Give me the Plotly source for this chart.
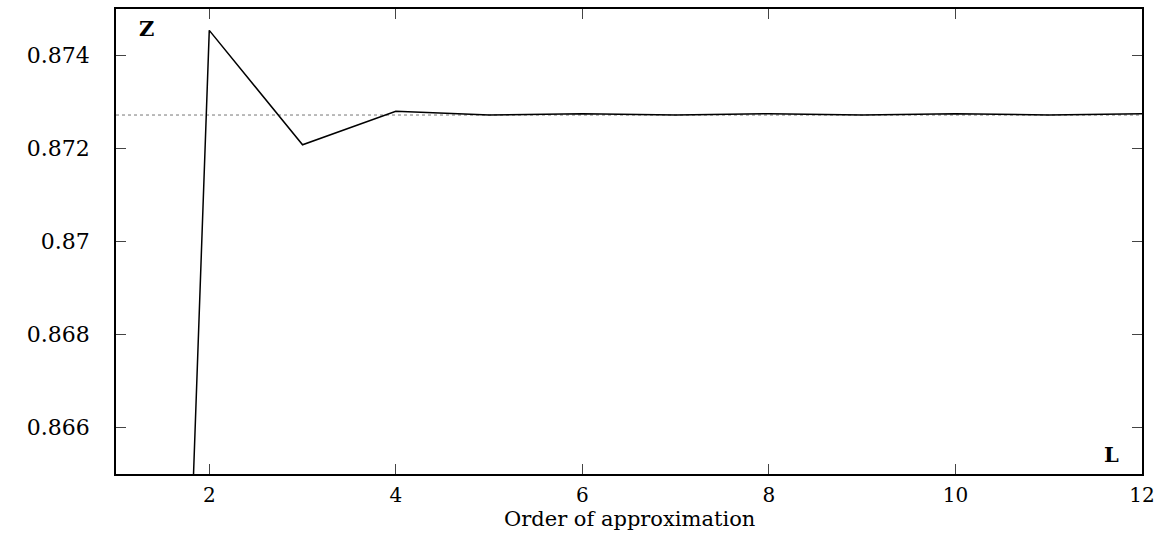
import plotly.graph_objects as go

order = [1, 2, 3, 4, 5, 6, 7, 8, 9, 10, 11, 12]
z_values = [0.8180, 0.87454, 0.87208, 0.87280, 0.87272, 0.87275, 0.87272, 0.87275, 0.87272, 0.87275, 0.87272, 0.87275]
z_limit = 0.87272
x_ticks = [2, 4, 6, 8, 10, 12]
y_ticks = [0.866, 0.868, 0.87, 0.872, 0.874]
y_tick_text = ["0.866", "0.868", "0.87", "0.872", "0.874"]

font_family = "DejaVu Serif"

fig = go.Figure()
fig.add_trace(go.Scatter(x=[1, 12], y=[z_limit, z_limit], mode="lines",
                         line=dict(color="#777777", width=1, dash="dot"), showlegend=False))
fig.add_trace(go.Scatter(x=order, y=z_values, mode="lines",
                         line=dict(color="black", width=1.5), showlegend=False))

fig.update_layout(
    width=1164, height=533,
    margin=dict(l=116, r=22, t=7, b=59),
    paper_bgcolor="white", plot_bgcolor="white",
    font=dict(family=font_family, size=21, color="black"),
    xaxis=dict(range=[1, 12], tickvals=x_ticks, ticks="inside", ticklen=10,
               showline=True, linecolor="black", linewidth=1.5, mirror="ticks",
               showgrid=False, zeroline=False, ticklabelstandoff=2,
               tickfont=dict(family=font_family, size=20)),
    yaxis=dict(range=[0.865, 0.875], tickvals=y_ticks, ticktext=y_tick_text,
               ticks="inside", ticklen=10,
               showline=True, linecolor="black", linewidth=1.5, mirror="ticks",
               showgrid=False, zeroline=False, ticklabelstandoff=20,
               tickfont=dict(family=font_family, size=22)),
    annotations=[
        dict(text="Order of approximation", x=0.5, y=0, xref="paper", yref="paper",
             xanchor="center", yanchor="top", yshift=-31, showarrow=False,
             font=dict(family=font_family, size=21)),
        dict(text="<b>Z</b>", x=0.03, y=0.99, xref="paper", yref="paper",
             xanchor="center", yanchor="top", showarrow=False,
             font=dict(family=font_family, size=21)),
        dict(text="<b>L</b>", x=0.97, y=0.01, xref="paper", yref="paper",
             xanchor="center", yanchor="bottom", showarrow=False,
             font=dict(family=font_family, size=21)),
    ],
)

fig.write_html("out.html", config={"displayModeBar": False},
               post_script="document.body.style.margin='0';document.body.style.overflow='hidden';")
